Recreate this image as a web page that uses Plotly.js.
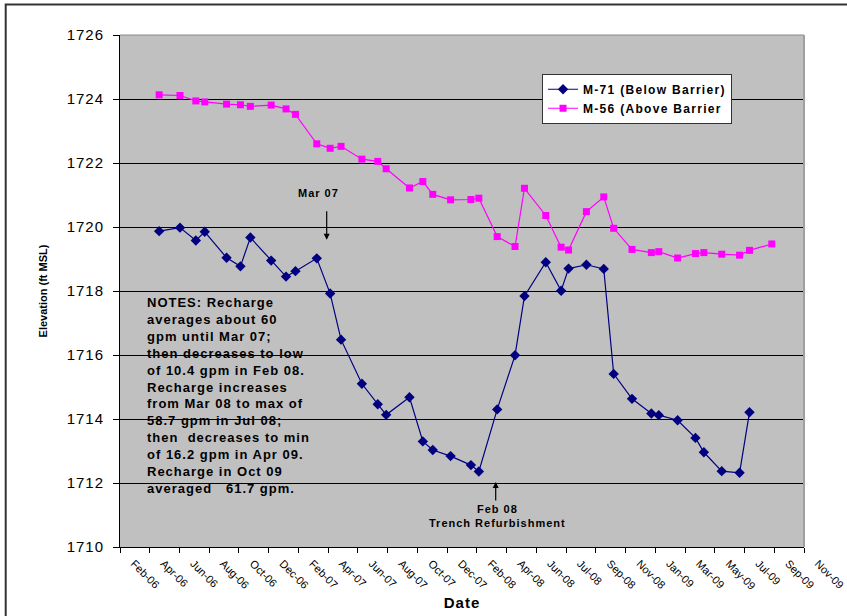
<!DOCTYPE html>
<html>
<head>
<meta charset="utf-8">
<script src="https://cdn.plot.ly/plotly-3.0.1.min.js"></script>
<style>
  html, body { margin: 0; padding: 0; background: #fff; }
  #chart { width: 847px; height: 616px; }
  .annotation-text { letter-spacing: 1px; }
  .legendtext { letter-spacing: 1.3px; }
  .ytick text { letter-spacing: 1px; }
  .xtitle { letter-spacing: 1px; }
</style>
</head>
<body>
<div id="chart"></div>
<script>
// M-71 (Below Barrier) observation dates and elevations (ft MSL)
const datesM71 = [
  '2006-05-02','2006-06-13','2006-07-15','2006-08-02','2006-09-15','2006-10-13','2006-11-02','2006-12-14',
  '2007-01-13','2007-02-01','2007-03-16','2007-04-12','2007-05-04','2007-06-15','2007-07-17','2007-08-03',
  '2007-09-19','2007-10-16','2007-11-05','2007-12-11','2008-01-21','2008-02-06','2008-03-14','2008-04-19',
  '2008-05-08','2008-06-20','2008-07-21','2008-08-05','2008-09-10','2008-10-15','2008-11-04','2008-12-11',
  '2009-01-19','2009-02-03','2009-03-13','2009-04-18','2009-05-05','2009-06-10','2009-07-16','2009-08-05'
];
const elevM71 = [
  1719.87,1719.98,1719.58,1719.85,1719.04,1718.77,1719.67,1718.95,
  1718.45,1718.62,1719.02,1717.92,1716.48,1715.10,1714.46,1714.13,
  1714.68,1713.30,1713.03,1712.84,1712.56,1712.36,1714.30,1715.99,
  1717.84,1718.90,1718.01,1718.70,1718.82,1718.69,1715.41,1714.63,
  1714.17,1714.12,1713.96,1713.41,1712.96,1712.37,1712.32,1714.21
];
// M-56 (Above Barrier)
const datesM56 = [
  '2006-05-02','2006-06-13','2006-07-15','2006-08-02','2006-09-15','2006-10-13','2006-11-02','2006-12-14',
  '2007-01-13','2007-02-01','2007-03-16','2007-04-12','2007-05-04','2007-06-15','2007-07-17','2007-08-03',
  '2007-09-19','2007-10-16','2007-11-05','2007-12-11','2008-01-21','2008-02-06','2008-03-14','2008-04-19',
  '2008-05-08','2008-06-20','2008-07-21','2008-08-05','2008-09-10','2008-10-15','2008-11-04','2008-12-11',
  '2009-01-19','2009-02-03','2009-03-13','2009-04-18','2009-05-05','2009-06-10','2009-07-16','2009-08-05',
  '2009-09-19'
];
const elevM56 = [
  1724.13,1724.11,1723.94,1723.91,1723.84,1723.82,1723.77,1723.81,
  1723.69,1723.52,1722.60,1722.46,1722.52,1722.12,1722.05,1721.82,
  1721.22,1721.42,1721.02,1720.85,1720.86,1720.90,1719.70,1719.39,
  1721.21,1720.36,1719.37,1719.28,1720.48,1720.94,1719.96,1719.30,
  1719.20,1719.23,1719.03,1719.17,1719.20,1719.15,1719.12,1719.27,
  1719.47
];
const seriesNames = ['M-71 (Below Barrier)', 'M-56 (Above Barrier'];
const notesLines = [
  'NOTES: Recharge',
  'averages about 60',
  'gpm until Mar 07;',
  'then decreases to low',
  'of 10.4 gpm in Feb 08.',
  'Recharge increases',
  'from Mar 08 to max of',
  '58.7 gpm in Jul 08;',
  'then\u00a0 decreases to min',
  'of 16.2 gpm in Apr 09.',
  'Recharge in Oct 09',
  'averaged\u00a0\u00a0 61.7 gpm.'
];

const FONT = 'Liberation Sans, Arial, Helvetica, sans-serif';

const traces = [
  {
    x: datesM71, y: elevM71, type: 'scatter', mode: 'lines+markers',
    name: '<b>' + seriesNames[0] + '</b>',
    line: { color: '#000080', width: 1.2 },
    marker: { symbol: 'diamond', size: 8, color: '#000080' }
  },
  {
    x: datesM56, y: elevM56, type: 'scatter', mode: 'lines+markers',
    name: '<b>' + seriesNames[1] + '</b>',
    line: { color: '#FF00FF', width: 1.2 },
    marker: { symbol: 'square', size: 7, color: '#FF00FF' }
  }
];

const layout = {
  width: 847, height: 616,
  margin: { l: 120, r: 43, t: 35, b: 69 },
  paper_bgcolor: '#ffffff',
  plot_bgcolor: '#C0C0C0',
  font: { family: FONT, color: '#000' },
  showlegend: true,
  legend: {
    x: 0.617, y: 0.9243, xanchor: 'left', yanchor: 'top',
    bgcolor: '#ffffff', bordercolor: '#333', borderwidth: 1,
    font: { family: FONT, size: 12, color: '#000' },
    tracegroupgap: 0
  },
  xaxis: {
    type: 'date',
    range: ['2006-02-12', '2009-11-23'],
    tick0: '2006-02-12',
    dtick: 60 * 86400000,
    tickformat: '%b-%y',
    tickangle: 45,
    ticklabelshift: 14,
    ticks: 'outside', ticklen: 5, tickcolor: '#000',
    tickfont: { family: FONT, size: 11, color: '#000' },
    showgrid: false, zeroline: false,
    showline: true, linecolor: '#000', linewidth: 1,
    title: { text: '<b>Date</b>', font: { family: FONT, size: 15, color: '#000' }, standoff: 6 },
    automargin: false
  },
  yaxis: {
    range: [1710, 1726],
    dtick: 2,
    ticks: 'outside', ticklen: 6, tickcolor: '#000',
    ticklabelstandoff: 6,
    tickfont: { family: FONT, size: 15, color: '#000' },
    showgrid: true, gridcolor: '#000', gridwidth: 1,
    zeroline: false,
    showline: true, linecolor: '#000', linewidth: 1,
    title: { text: '<b>Elevation (ft MSL)</b>', font: { family: FONT, size: 11, color: '#000' }, standoff: 16 },
    automargin: false
  },
  shapes: [
    { type: 'line', xref: 'paper', yref: 'paper', x0: 0, x1: 1, y0: 1, y1: 1, line: { color: '#888', width: 1 } },
    { type: 'line', xref: 'paper', yref: 'paper', x0: 1, x1: 1, y0: 0, y1: 1, line: { color: '#A0A0A0', width: 2 } },
    { type: 'path', xref: 'paper', yref: 'paper', path: 'M -0.1671,-0.2 L -0.1671,1.0598 L 1.2,1.0598', line: { color: '#333', width: 2 } }
  ],
  annotations: [
    { x: '2007-03-20', y: 1721.07, text: '<b>Mar 07</b>', showarrow: false, font: { family: FONT, size: 11, color: '#000' } },
    { x: '2007-04-05', y: 1719.60, text: '', showarrow: true, ax: 0, ay: -30, arrowhead: 2, arrowsize: 1, arrowwidth: 1.2, arrowcolor: '#000' },
    { x: '2008-03-11', y: 1712.03, text: '', showarrow: true, ax: 0, ay: 20, arrowhead: 2, arrowsize: 1, arrowwidth: 1.2, arrowcolor: '#000' },
    { x: '2008-03-15', y: 1710.98, text: '<b>Feb 08</b><br><b>Trench Refurbishment</b>', showarrow: false, font: { family: FONT, size: 11, color: '#000' } },
    { xref: 'paper', yref: 'paper', x: 0.0361, y: 0.2962, xanchor: 'left', yanchor: 'middle', align: 'left',
      text: notesLines.map(s => '<b>' + s + '</b>').join('<br>'), showarrow: false,
      font: { family: FONT, size: 13, color: '#000' } }
  ]
};

Plotly.newPlot('chart', traces, layout, { staticPlot: true, displayModeBar: false });
</script>
</body>
</html>
